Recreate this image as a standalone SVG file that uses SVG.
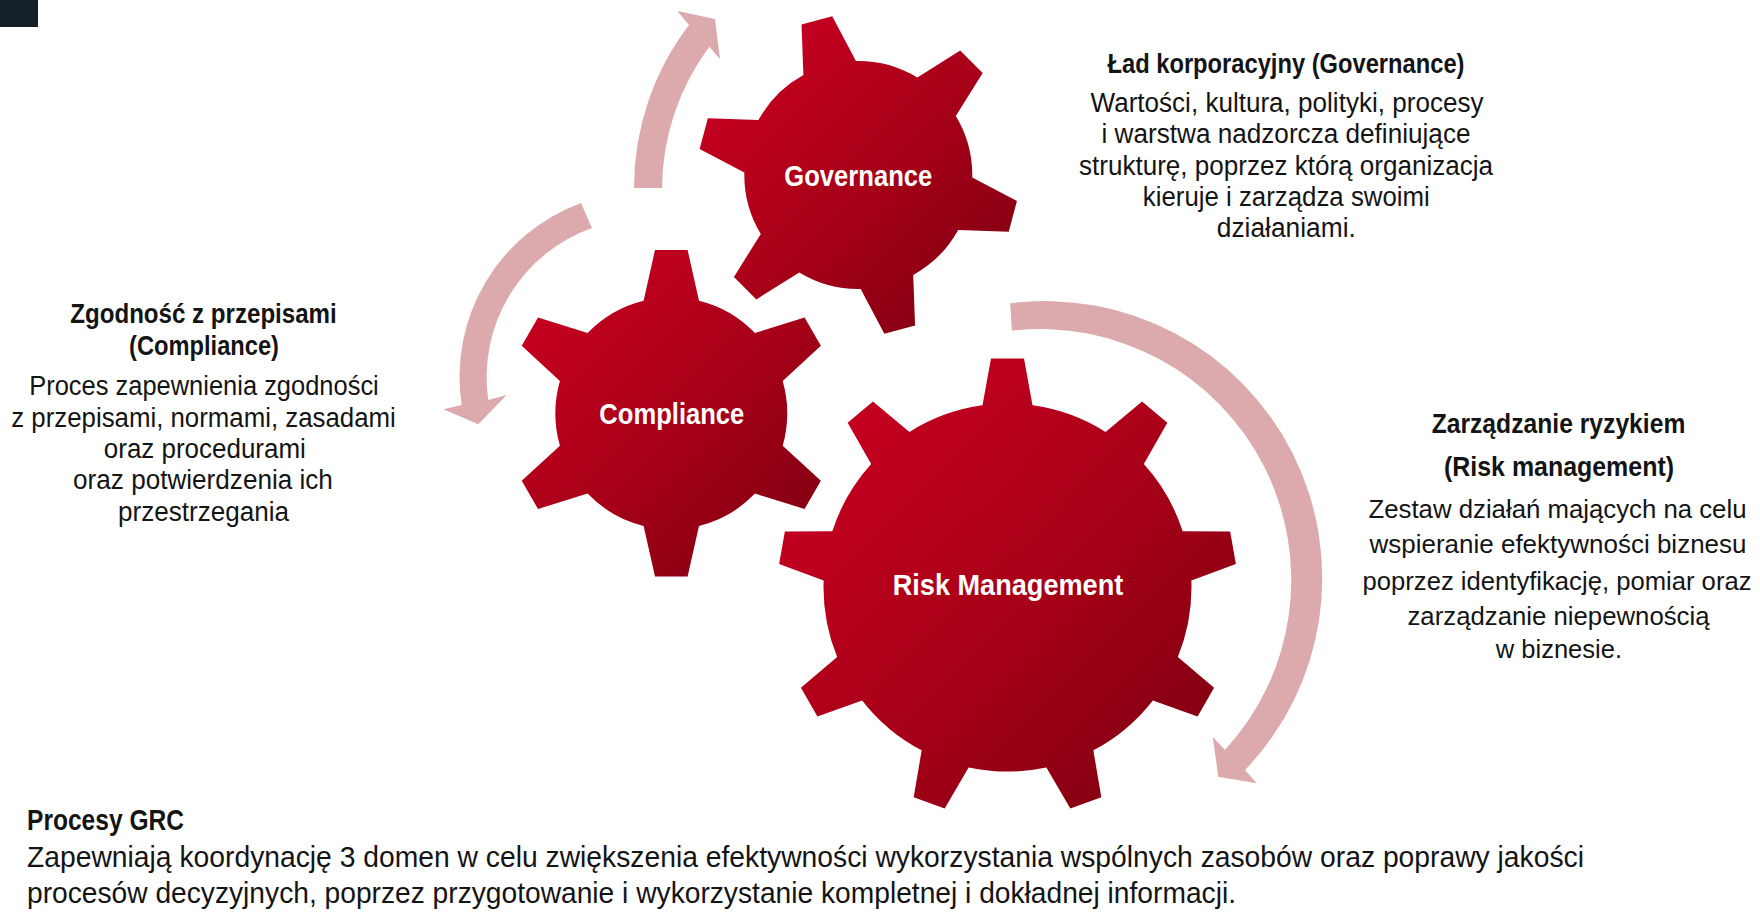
<svg xmlns="http://www.w3.org/2000/svg" width="1760" height="913" viewBox="0 0 1760 913">
<style>
.arrow{fill:#dcaaad}
.t{font-family:"Liberation Sans",Arial,sans-serif;fill:#141414;text-anchor:middle}
.l{text-anchor:start}
.b{font-weight:700}
.lbl{font-family:"Liberation Sans",Arial,sans-serif;fill:#ffffff;font-weight:700;font-size:30px;text-anchor:middle}
</style>
<defs>
<linearGradient id="gearFill" x1="0" y1="0" x2="1" y2="1">
<stop offset="0.15" stop-color="#c4001f"/>
<stop offset="0.5" stop-color="#aa0019"/>
<stop offset="0.85" stop-color="#870012"/>
</linearGradient>
<path id="tooth-gov" d="M-27.2,-95 L-27.2,-110.7 L-15.9,-160 L15.9,-160 L27.2,-110.7 L27.2,-95 Z"/>
<path id="tooth-comp" d="M-27.7,-95 L-27.7,-112.65 L-16.3,-163.3 L16.3,-163.3 L27.7,-112.65 L27.7,-95 Z"/>
<path id="tooth-risk" d="M-25,-160 L-25,-182.3 L-16.5,-229 L16.5,-229 L25,-182.3 L25,-160 Z"/>
<clipPath id="clip-gov">
<circle cx="858.3" cy="175" r="114"/>
<use href="#tooth-gov" transform="translate(858.3,175) rotate(-15)"/>
<use href="#tooth-gov" transform="translate(858.3,175) rotate(45)"/>
<use href="#tooth-gov" transform="translate(858.3,175) rotate(105)"/>
<use href="#tooth-gov" transform="translate(858.3,175) rotate(165)"/>
<use href="#tooth-gov" transform="translate(858.3,175) rotate(225)"/>
<use href="#tooth-gov" transform="translate(858.3,175) rotate(285)"/>
</clipPath>
<clipPath id="clip-comp">
<circle cx="671.3" cy="413.3" r="116"/>
<use href="#tooth-comp" transform="translate(671.3,413.3) rotate(0)"/>
<use href="#tooth-comp" transform="translate(671.3,413.3) rotate(60)"/>
<use href="#tooth-comp" transform="translate(671.3,413.3) rotate(120)"/>
<use href="#tooth-comp" transform="translate(671.3,413.3) rotate(180)"/>
<use href="#tooth-comp" transform="translate(671.3,413.3) rotate(240)"/>
<use href="#tooth-comp" transform="translate(671.3,413.3) rotate(300)"/>
</clipPath>
<clipPath id="clip-risk">
<circle cx="1007.5" cy="587.6" r="184"/>
<use href="#tooth-risk" transform="translate(1007.5,587.6) rotate(0)"/>
<use href="#tooth-risk" transform="translate(1007.5,587.6) rotate(40)"/>
<use href="#tooth-risk" transform="translate(1007.5,587.6) rotate(80)"/>
<use href="#tooth-risk" transform="translate(1007.5,587.6) rotate(120)"/>
<use href="#tooth-risk" transform="translate(1007.5,587.6) rotate(160)"/>
<use href="#tooth-risk" transform="translate(1007.5,587.6) rotate(200)"/>
<use href="#tooth-risk" transform="translate(1007.5,587.6) rotate(240)"/>
<use href="#tooth-risk" transform="translate(1007.5,587.6) rotate(280)"/>
<use href="#tooth-risk" transform="translate(1007.5,587.6) rotate(320)"/>
</clipPath>
</defs>
<rect width="1760" height="913" fill="#ffffff"/>
<rect x="0" y="0" width="38" height="27" fill="#16202b"/>

<g id="connectors">
<path class="arrow" d="M634,188 A268,268 0 0 1 689,25 L677.3,11 L715,19 L720,59.3 L709.3,46.7 A240,240 0 0 0 662,188 Z"/>
<path class="arrow" d="M581,203 A185,185 0 0 0 461.7,405 L443.3,409.3 L478.3,424.3 L506.7,395 L488.3,400 A158,158 0 0 1 592,228 Z"/>
<path class="arrow" d="M1010.2,303.3 A277,277 0 0 1 1245,770 L1256.7,783.3 L1218.3,776.7 L1212.7,736.7 L1225,750 A251,251 0 0 0 1011.9,330.7 Z"/>
</g>

<g id="gear-governance">
<rect x="697" y="14" width="322" height="322" fill="url(#gearFill)" clip-path="url(#clip-gov)"/>
<text class="lbl" x="858.3" y="185.5" textLength="148" lengthAdjust="spacingAndGlyphs">Governance</text>
</g>
<g id="gear-compliance">
<rect x="507.3" y="249.3" width="328" height="328" fill="url(#gearFill)" clip-path="url(#clip-comp)"/>
<text class="lbl" x="671.8" y="424.3" textLength="145" lengthAdjust="spacingAndGlyphs">Compliance</text>
</g>
<g id="gear-risk">
<rect x="777.5" y="357.6" width="460" height="460" fill="url(#gearFill)" clip-path="url(#clip-risk)"/>
<text class="lbl" x="1008" y="595" textLength="230.6" lengthAdjust="spacingAndGlyphs">Risk Management</text>
</g>

<g id="desc-governance" font-size="27">
<text class="t b" x="1286" y="73" textLength="357" lengthAdjust="spacingAndGlyphs">Ład korporacyjny (Governance)</text>
<text class="t" x="1287" y="111.5" textLength="393" lengthAdjust="spacingAndGlyphs">Wartości, kultura, polityki, procesy</text>
<text class="t" x="1286" y="143" textLength="369" lengthAdjust="spacingAndGlyphs">i warstwa nadzorcza definiujące</text>
<text class="t" x="1286" y="174.5" textLength="414" lengthAdjust="spacingAndGlyphs">strukturę, poprzez którą organizacja</text>
<text class="t" x="1286.3" y="205.5" textLength="287" lengthAdjust="spacingAndGlyphs">kieruje i zarządza swoimi</text>
<text class="t" x="1286.3" y="237" textLength="139" lengthAdjust="spacingAndGlyphs">działaniami.</text>
</g>

<g id="desc-compliance" font-size="27">
<text class="t b" x="203.5" y="323" textLength="266.5" lengthAdjust="spacingAndGlyphs">Zgodność z przepisami</text>
<text class="t b" x="204" y="355" textLength="150" lengthAdjust="spacingAndGlyphs">(Compliance)</text>
<text class="t" x="204" y="395" textLength="349.6" lengthAdjust="spacingAndGlyphs">Proces zapewnienia zgodności</text>
<text class="t" x="203.5" y="426.5" textLength="384.5" lengthAdjust="spacingAndGlyphs">z przepisami, normami, zasadami</text>
<text class="t" x="204.8" y="458" textLength="202" lengthAdjust="spacingAndGlyphs">oraz procedurami</text>
<text class="t" x="203" y="489" textLength="259.8" lengthAdjust="spacingAndGlyphs">oraz potwierdzenia ich</text>
<text class="t" x="203.5" y="521" textLength="171" lengthAdjust="spacingAndGlyphs">przestrzegania</text>
</g>

<g id="desc-risk" font-size="28">
<text class="t b" x="1558.5" y="433" textLength="253.7" lengthAdjust="spacingAndGlyphs">Zarządzanie ryzykiem</text>
<text class="t b" x="1559" y="476" textLength="230" lengthAdjust="spacingAndGlyphs">(Risk management)</text>
<text class="t" x="1557.5" y="518" font-size="26" textLength="378" lengthAdjust="spacingAndGlyphs">Zestaw działań mających na celu</text>
<text class="t" x="1558" y="553" font-size="26" textLength="377" lengthAdjust="spacingAndGlyphs">wspieranie efektywności biznesu</text>
<text class="t" x="1557" y="589.5" font-size="26" textLength="389" lengthAdjust="spacingAndGlyphs">poprzez identyfikację, pomiar oraz</text>
<text class="t" x="1558.5" y="624.5" font-size="26" textLength="302" lengthAdjust="spacingAndGlyphs">zarządzanie niepewnością</text>
<text class="t" x="1558.9" y="658" font-size="26" textLength="126.3" lengthAdjust="spacingAndGlyphs">w biznesie.</text>
</g>

<g id="desc-grc" font-size="30">
<text class="t l b" x="27" y="829.5" textLength="157" lengthAdjust="spacingAndGlyphs">Procesy GRC</text>
<text class="t l" x="27" y="867" textLength="1557" lengthAdjust="spacingAndGlyphs">Zapewniają koordynację 3 domen w celu zwiększenia efektywności wykorzystania wspólnych zasobów oraz poprawy jakości</text>
<text class="t l" x="27" y="903" textLength="1209" lengthAdjust="spacingAndGlyphs">procesów decyzyjnych, poprzez przygotowanie i wykorzystanie kompletnej i dokładnej informacji.</text>
</g>
</svg>
